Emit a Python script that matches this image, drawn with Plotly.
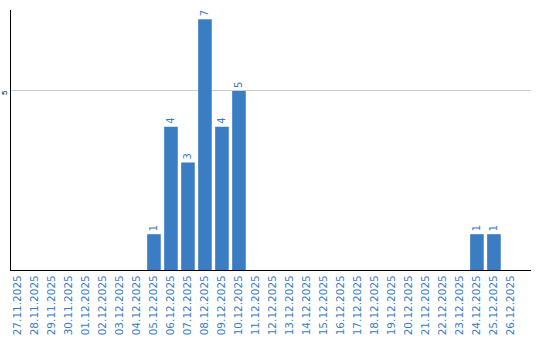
import plotly.graph_objects as go

dates = ["27.11.2025","28.11.2025","29.11.2025","30.11.2025","01.12.2025","02.12.2025",
         "03.12.2025","04.12.2025","05.12.2025","06.12.2025","07.12.2025","08.12.2025",
         "09.12.2025","10.12.2025","11.12.2025","12.12.2025","13.12.2025","14.12.2025",
         "15.12.2025","16.12.2025","17.12.2025","18.12.2025","19.12.2025","20.12.2025",
         "21.12.2025","22.12.2025","23.12.2025","24.12.2025","25.12.2025","26.12.2025"]
counts = [0,0,0,0,0,0,0,0,1,4,3,7,4,5,0,0,0,0,0,0,0,0,0,0,0,0,0,1,1,0]
labels = [str(v) if v else "" for v in counts]

blue = "#3b7dc3"
fig = go.Figure(go.Bar(
    x=dates, y=counts, text=labels, textposition="outside", textangle=-90,
    textfont=dict(color=blue, size=10, family="DejaVu Sans"),
    marker=dict(color=blue, line=dict(width=0)), width=0.8, cliponaxis=False,
))
fig.update_layout(
    width=540, height=340, margin=dict(l=11, r=9, t=10, b=70),
    paper_bgcolor="white", plot_bgcolor="white", showlegend=False,
    font=dict(family="DejaVu Sans"),
    xaxis=dict(type="category", range=[-0.41, 30.18], tickangle=-90, automargin=False,
               tickfont=dict(color=blue, size=10.5), showline=True, linecolor="black",
               linewidth=1, showgrid=False, ticks=""),
    yaxis=dict(range=[0, 7.26], tickvals=[5], tickangle=-90, automargin=False,
               ticklabelshift=3,
               tickfont=dict(color="black", size=8, family="Liberation Sans"), showline=True,
               linecolor="black", linewidth=1, showgrid=True, gridcolor="#cccccc",
               zeroline=False, ticks=""),
)
fig.write_html("out.html")
